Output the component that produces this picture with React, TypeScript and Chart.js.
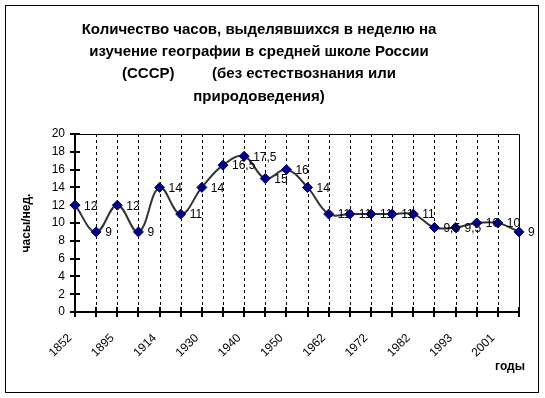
import React, { useEffect, useRef } from "react";
import { Chart, registerables } from "chart.js";

Chart.register(...registerables);

const titleLines = [
  "Количество часов, выделявшихся в неделю на",
  "изучение географии в средней школе России",
  "(СССР)         (без естествознания или",
  "природоведения)",
];
const yAxisTitle = "часы/нед.";
const xAxisTitle = "годы";

// category labels as printed on the axis (every other category is unlabeled)
const years = [
  "1852", "", "1895", "", "1914", "", "1930", "", "1940", "", "1950", "",
  "1962", "", "1972", "", "1982", "", "1993", "", "2001", "",
];
const hours = [
  12, 9, 12, 9, 14, 11, 14, 16.5, 17.5, 15, 16, 14,
  11, 11, 11, 11, 11, 9.5, 9.5, 10, 10, 9,
];
const yMin = 0;
const yMax = 20;
const yStep = 2;

const FONT = "Arial, 'Liberation Sans', sans-serif";

const decor = {
  id: "decor",
  beforeDraw(chart: any) {
    const { ctx, width, height } = chart;
    ctx.save();
    ctx.fillStyle = "#ffffff";
    ctx.fillRect(0, 0, width, height);
    ctx.strokeStyle = "#000000";
    ctx.lineWidth = 1;
    ctx.strokeRect(5.5, 5.5, 533, 387);
    ctx.fillStyle = "#000000";
    ctx.font = `bold 15px ${FONT}`;
    ctx.textAlign = "center";
    ctx.textBaseline = "alphabetic";
    const cx = 259;
    titleLines.forEach((line, i) => {
      ctx.fillText(line, cx, 34 + i * 22.2);
    });
    ctx.restore();
  },
  beforeDatasetsDraw(chart: any) {
    const { ctx, chartArea } = chart;
    const { left, right, top, bottom } = chartArea;
    const xs = chart.scales.x;
    const ys = chart.scales.y;
    ctx.save();
    // dashed vertical grid
    ctx.strokeStyle = "#000000";
    ctx.lineWidth = 1;
    ctx.setLineDash([3, 3]);
    for (let i = 1; i < years.length - 1; i++) {
      const x = Math.round(xs.getPixelForValue(i)) + 0.5;
      ctx.beginPath();
      ctx.moveTo(x, top);
      ctx.lineTo(x, bottom);
      ctx.stroke();
    }
    ctx.setLineDash([]);
    // plot frame top/right
    ctx.beginPath();
    ctx.moveTo(left, Math.round(top) + 0.5);
    ctx.lineTo(Math.round(right) + 0.5, Math.round(top) + 0.5);
    ctx.lineTo(Math.round(right) + 0.5, bottom);
    ctx.stroke();
    // axes
    ctx.lineWidth = 2;
    ctx.beginPath();
    ctx.moveTo(Math.round(left), top);
    ctx.lineTo(Math.round(left), Math.round(bottom));
    ctx.lineTo(right, Math.round(bottom));
    ctx.stroke();
    // y ticks
    for (let v = yMin; v <= yMax; v += yStep) {
      const y = Math.round(ys.getPixelForValue(v));
      ctx.beginPath();
      ctx.moveTo(left - 5, y);
      ctx.lineTo(left + 5, y);
      ctx.stroke();
    }
    // x ticks
    for (let i = 0; i < years.length; i++) {
      const x = Math.round(xs.getPixelForValue(i));
      ctx.beginPath();
      ctx.moveTo(x, bottom - 5);
      ctx.lineTo(x, bottom + 5);
      ctx.stroke();
    }
    ctx.restore();
  },
  afterDatasetsDraw(chart: any) {
    const { ctx, chartArea } = chart;
    const meta = chart.getDatasetMeta(0);
    ctx.save();
    ctx.fillStyle = "#000000";
    ctx.font = `12px ${FONT}`;
    ctx.textAlign = "left";
    ctx.textBaseline = "middle";
    meta.data.forEach((pt: any, i: number) => {
      const label = String(hours[i]).replace(".", ",");
      ctx.fillText(label, pt.x + 9, pt.y + 1);
    });
    // axis titles
    ctx.font = `bold 12px ${FONT}`;
    ctx.textAlign = "center";
    ctx.fillText(xAxisTitle, 510, 367);
    ctx.translate(27, (chartArea.top + chartArea.bottom) / 2);
    ctx.rotate(-Math.PI / 2);
    ctx.fillText(yAxisTitle, 0, 0);
    ctx.restore();
  },
};

export default function App() {
  const ref = useRef<HTMLCanvasElement>(null);
  useEffect(() => {
    document.body.style.margin = "0";
    const chart = new Chart(ref.current as HTMLCanvasElement, {
      type: "line",
      data: {
        labels: years,
        datasets: [
          {
            data: hours,
            borderColor: "#333333",
            borderWidth: 2,
            tension: 0.4,
            fill: false,
            pointStyle: "rectRot",
            pointRadius: 5,
            pointBackgroundColor: "#000080",
            pointBorderColor: "#000080",
            pointBorderWidth: 1,
          },
        ],
      },
      options: {
        responsive: false,
        animation: false,
        devicePixelRatio: 1,
        layout: { padding: { left: 0, top: 134, right: 26, bottom: 0 } },
        plugins: {
          legend: { display: false },
          title: { display: false },
          tooltip: { enabled: false },
        },
        scales: {
          x: {
            type: "category",
            offset: false,
            grid: { display: false, drawTicks: false },
            border: { display: false },
            ticks: {
              autoSkip: false,
              minRotation: 45,
              maxRotation: 45,
              padding: 19,
              labelOffset: -5,
              color: "#000000",
              font: { family: FONT, size: 12 },
            },
            afterFit: (s: any) => {
              s.height = 86;
              s.paddingLeft = 0;
              s.paddingRight = 0;
            },
          },
          y: {
            min: yMin,
            max: yMax,
            grid: { display: false, drawTicks: false },
            border: { display: false },
            ticks: {
              stepSize: yStep,
              padding: 10,
              color: "#000000",
              font: { family: FONT, size: 12 },
            },
            afterFit: (s: any) => {
              s.width = 75;
            },
          },
        },
      },
      plugins: [decor],
    } as any);
    return () => chart.destroy();
  }, []);
  return (
    <canvas
      ref={ref}
      width={545}
      height={398}
      style={{ display: "block", width: 545, height: 398 }}
    />
  );
}
